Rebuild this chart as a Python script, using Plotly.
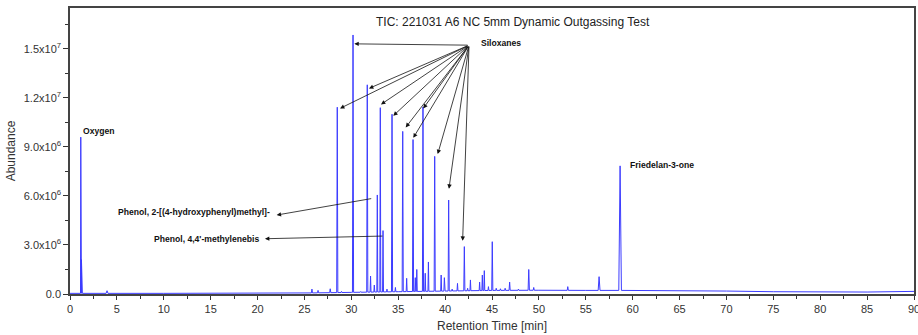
import numpy as np
import plotly.graph_objects as go

# ---------------- data ----------------
peak_rt = [1.15, 1.22, 3.95, 25.8, 26.45, 27.75, 28.5, 28.95, 30.18, 31.0, 31.7, 32.05,
           32.45, 32.77, 33.09, 33.38, 33.8, 34.34, 34.7, 35.48, 35.9, 36.58, 36.82,
           36.98, 37.64, 37.88, 38.22, 38.89, 39.58, 39.92, 40.38, 40.75, 41.32, 42.05,
           42.4, 42.7, 43.68, 43.97, 44.18, 44.62, 45.03, 45.45, 45.9, 46.4, 46.88,
           47.82, 48.92, 49.45, 52.4, 53.08, 56.42, 58.66]
peak_abundance = [9.6e6, 2.1e6, 2.0e5, 3.0e5, 2.2e5, 3.2e5, 1.143e7, 1.6e5, 1.585e7, 1.5e5,
                  1.28e7, 1.1e6, 5.5e5, 6.06e6, 1.14e7, 3.88e6, 3.0e5, 1.10e7, 4.0e5,
                  9.95e6, 9.6e5, 9.45e6, 1.0e6, 1.5e6, 1.145e7, 1.27e6, 1.96e6, 8.42e6,
                  1.16e6, 1.0e6, 5.75e6, 3.0e5, 6.5e5, 2.9e6, 3.5e5, 8.6e5, 7.3e5, 1.16e6,
                  1.43e6, 4.5e5, 3.2e6, 3.5e5, 3.2e5, 3.5e5, 7.3e5, 3.0e5, 1.5e6, 4.0e5,
                  2.0e5, 4.5e5, 1.06e6, 7.84e6]
peak_halfwidth = [0.07, 0.1, 0.1, 0.06, 0.06, 0.06, 0.06, 0.05, 0.06, 0.05, 0.06, 0.05,
                  0.05, 0.05, 0.05, 0.05, 0.05, 0.06, 0.05, 0.06, 0.05, 0.06, 0.05,
                  0.05, 0.06, 0.05, 0.05, 0.06, 0.05, 0.05, 0.06, 0.05, 0.05, 0.06,
                  0.05, 0.05, 0.05, 0.05, 0.05, 0.05, 0.06, 0.05, 0.05, 0.05, 0.06,
                  0.05, 0.07, 0.06, 0.06, 0.06, 0.1, 0.14]
baseline_rt = [0, 10, 20, 25, 30, 35, 40, 45, 50, 55, 60, 65, 70, 75, 80, 85, 90]
baseline_abundance = [4e4, 4e4, 5e4, 6e4, 1.0e5, 1.4e5, 1.8e5, 2.2e5, 2.3e5, 2.2e5,
                      2.2e5, 2.1e5, 1.8e5, 1.4e5, 1.1e5, 1.2e5, 1.6e5]

y_tick_vals = [0, 3e6, 6e6, 9e6, 1.2e7, 1.5e7]
y_tick_text = ["0.0", "3.0x10<sup>6</sup>", "6.0x10<sup>6</sup>", "9.0x10<sup>6</sup>",
               "1.2x10<sup>7</sup>", "1.5x10<sup>7</sup>"]
x_tick_vals = [0, 5, 10, 15, 20, 25, 30, 35, 40, 45, 50, 55, 60, 65, 70, 75, 80, 85, 90]

# ---------------- build the chromatogram trace ----------------
pts = []
spans = []
for t, h, w in zip(peak_rt, peak_abundance, peak_halfwidth):
    b0 = float(np.interp(t - w, baseline_rt, baseline_abundance))
    b1 = float(np.interp(t + w, baseline_rt, baseline_abundance))
    pts += [(t - w, b0), (t, h), (t + w, b1)]
    spans.append((t - w, t + w))
for t, b in zip(baseline_rt, baseline_abundance):
    if not any(a <= t <= c for a, c in spans):
        pts.append((t, b))
pts.sort(key=lambda p: p[0])
xs = [p[0] for p in pts]
ys = [p[1] for p in pts]

FONT = "Arial, Liberation Sans, sans-serif"

fig = go.Figure()
fig.add_trace(go.Scatter(x=xs, y=ys, mode="lines",
                         line=dict(color="#3c3cff", width=1), hoverinfo="skip"))

ann = []
# title
ann.append(dict(text="TIC: 221031 A6 NC 5mm Dynamic Outgassing Test", xref="paper", yref="paper",
                x=0.525, y=0.951, xanchor="center", yanchor="middle", showarrow=False,
                font=dict(family=FONT, size=12, color="#222")))

lab_font = dict(family=FONT, size=8.6, color="#111")
# siloxane arrows
tail = (42.55, 1.5226e7)
heads = [(30.32, 1.5306e7), (28.79, 1.1356e7), (31.88, 1.2579e7), (33.16, 1.16e7),
         (34.47, 1.0903e7), (35.8, 1.0194e7), (36.61, 9.558e6), (37.67, 1.1356e7),
         (39.21, 8.561e6), (40.41, 6.439e6), (41.87, 3.259e6)]
for hx, hy in heads:
    ann.append(dict(x=hx, y=hy, ax=tail[0], ay=tail[1], xref="x", yref="y", axref="x", ayref="y",
                    text="", showarrow=True, arrowhead=2, arrowsize=1.1, arrowwidth=0.8,
                    arrowcolor="#111", standoff=0, startstandoff=0))
ann.append(dict(x=43.61, y=1.535e7, xref="x", yref="y", text="<b>Siloxanes</b>", showarrow=False,
                xanchor="left", yanchor="middle", font=lab_font))
# phenol arrows
ann.append(dict(x=22.04, y=4.831e6, ax=32.28, ay=5.852e6, xref="x", yref="y", axref="x", ayref="y",
                text="", showarrow=True, arrowhead=2, arrowsize=1.1, arrowwidth=0.8,
                arrowcolor="#111", standoff=0))
ann.append(dict(x=21.54, y=5.0e6, xref="x", yref="y",
                text="<b>Phenol, 2-[(4-hydroxyphenyl)methyl]-</b>", showarrow=False,
                xanchor="right", yanchor="middle", font=lab_font))
ann.append(dict(x=20.79, y=3.382e6, ax=33.48, ay=3.547e6, xref="x", yref="y", axref="x", ayref="y",
                text="", showarrow=True, arrowhead=2, arrowsize=1.1, arrowwidth=0.8,
                arrowcolor="#111", standoff=0))
ann.append(dict(x=20.37, y=3.382e6, xref="x", yref="y",
                text="<b>Phenol, 4,4'-methylenebis</b>", showarrow=False,
                xanchor="right", yanchor="middle", font=lab_font))
ann.append(dict(x=1.17, y=9.967e6, xref="x", yref="y", text="<b>Oxygen</b>", showarrow=False,
                xanchor="left", yanchor="middle", font=lab_font))
ann.append(dict(x=59.5, y=7.888e6, xref="x", yref="y", text="<b>Friedelan-3-one</b>", showarrow=False,
                xanchor="left", yanchor="middle", font=lab_font))

fig.update_layout(
    width=918, height=335,
    margin=dict(l=70, r=4, t=8, b=41),
    paper_bgcolor="white", plot_bgcolor="white",
    showlegend=False,
    font=dict(family=FONT, size=11, color="#333"),
    annotations=ann,
    xaxis=dict(range=[0, 90.0001], tickmode="array", tickvals=x_tick_vals, automargin=False,
               ticks="outside", ticklen=4, ticklabeloverflow="allow",
               tickwidth=1.2, tickcolor="#333", showline=True, linecolor="#444", linewidth=1.5,
               mirror=True, showgrid=False, zeroline=False,
               tickfont=dict(family=FONT, size=11, color="#333"),
               minor=dict(tickmode="linear", tick0=0, dtick=2.5, ticks="outside", ticklen=3,
                          tickwidth=1.2, tickcolor="#333"),
               title=dict(text="Retention Time [min]", standoff=8,
                          font=dict(family=FONT, size=12, color="#333"))),
    yaxis=dict(range=[0, 1.75e7], tickmode="array", tickvals=y_tick_vals, ticktext=y_tick_text,
               automargin=False,
               ticks="outside", ticklen=5, tickwidth=1.2, tickcolor="#333",
               showline=True, linecolor="#444", linewidth=1.5, mirror=True,
               showgrid=False, zeroline=False,
               tickfont=dict(family=FONT, size=11, color="#333"),
               minor=dict(tickmode="linear", tick0=0, dtick=1.5e6, ticks="outside", ticklen=3,
                          tickwidth=1.2, tickcolor="#333"),
               title=dict(text="Abundance", standoff=6,
                          font=dict(family=FONT, size=12, color="#333"))),
)

fig.write_html("out.html")
